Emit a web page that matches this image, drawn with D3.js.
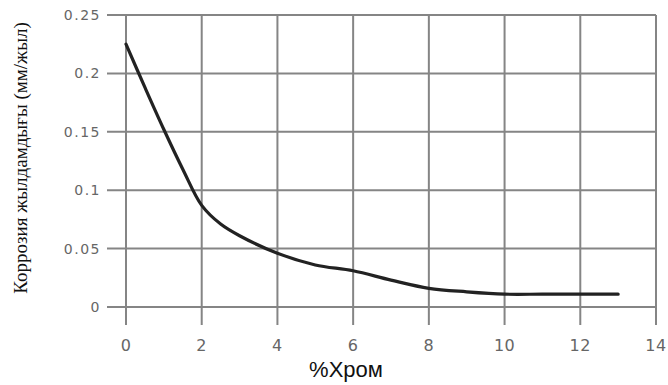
<!DOCTYPE html>
<html>
<head>
<meta charset="utf-8">
<script src="https://cdn.jsdelivr.net/npm/d3@7"></script>
<style>
  body { margin: 0; background: #fff; }
  .ytitle { font-family: "Liberation Serif", "DejaVu Serif", "Times New Roman", serif; }
</style>
</head>
<body>
<div class="chart"></div>
<script>
// chromium content (%) vs corrosion rate (mm/year)
const chromPct = [0, 0.5, 1, 1.5, 2, 2.5, 3, 4, 5, 6, 7, 8, 9, 10, 11, 12, 13];
const corrosionRate = [0.225, 0.188, 0.152, 0.118, 0.087, 0.071, 0.061, 0.046, 0.036, 0.031, 0.023, 0.016, 0.013, 0.011, 0.011, 0.011, 0.011];
const xTicks = [0, 2, 4, 6, 8, 10, 12, 14];
const yTicks = [0, 0.05, 0.1, 0.15, 0.2, 0.25];
const xTitle = "%Хром";
const yTitle = "Коррозия жылдамдығы (мм/жыл)";

const data = chromPct.map((c, i) => ({ x: c, y: corrosionRate[i] }));

const width = 668, height = 385;

const svg = d3.select(".chart").append("svg")
    .attr("width", width)
    .attr("height", height);

const x = d3.scaleLinear().domain([0, 14]).range([126, 656]);
const y = d3.scaleLinear().domain([0, 0.25]).range([307, 15]);

const gridColor = "#858585";

// horizontal grid lines (with tick stubs to the left)
svg.append("g")
    .selectAll("line")
    .data(yTicks)
    .join("line")
    .attr("x1", x(0) - 19)
    .attr("x2", x(14))
    .attr("y1", d => y(d))
    .attr("y2", d => y(d))
    .attr("stroke", gridColor)
    .attr("stroke-width", 2);

// vertical grid lines (with tick stubs below)
svg.append("g")
    .selectAll("line")
    .data(xTicks)
    .join("line")
    .attr("x1", d => x(d))
    .attr("x2", d => x(d))
    .attr("y1", y(0.25))
    .attr("y2", y(0) + 18)
    .attr("stroke", gridColor)
    .attr("stroke-width", 2);

// y tick labels
svg.append("g")
    .selectAll("text")
    .data(yTicks)
    .join("text")
    .attr("x", x(0) - 25)
    .attr("y", d => y(d))
    .attr("dy", "0.36em")
    .attr("text-anchor", "end")
    .style("font-family", "'DejaVu Sans', sans-serif")
    .attr("font-size", 14)
    .attr("letter-spacing", 1.5)
    .attr("fill", "#666")
    .text(d => d === 0 ? "0" : d3.format("")(d));

// x tick labels
svg.append("g")
    .selectAll("text")
    .data(xTicks)
    .join("text")
    .attr("x", d => x(d))
    .attr("y", y(0) + 44)
    .attr("text-anchor", "middle")
    .style("font-family", "'DejaVu Sans', sans-serif")
    .attr("font-size", 16)
    .attr("letter-spacing", 0.5)
    .attr("fill", "#666")
    .text(d => d);

// axis titles
svg.append("text")
    .attr("x", 346)
    .attr("y", 377)
    .attr("text-anchor", "middle")
    .style("font-family", "'Liberation Sans', Arial, sans-serif")
    .attr("font-size", 22)
    .attr("fill", "#111")
    .text(xTitle);

svg.append("text")
    .attr("class", "ytitle")
    .attr("transform", "translate(27,158) rotate(-90)")
    .attr("text-anchor", "middle")
    .attr("font-size", 19)
    .attr("fill", "#111")
    .text(yTitle);

// the curve
const line = d3.line()
    .x(d => x(d.x))
    .y(d => y(d.y))
    .curve(d3.curveCatmullRom.alpha(0.5));

svg.append("path")
    .datum(data)
    .attr("fill", "none")
    .attr("stroke", "#222")
    .attr("stroke-width", 3.2)
    .attr("stroke-linecap", "round")
    .attr("d", line);
</script>
</body>
</html>
